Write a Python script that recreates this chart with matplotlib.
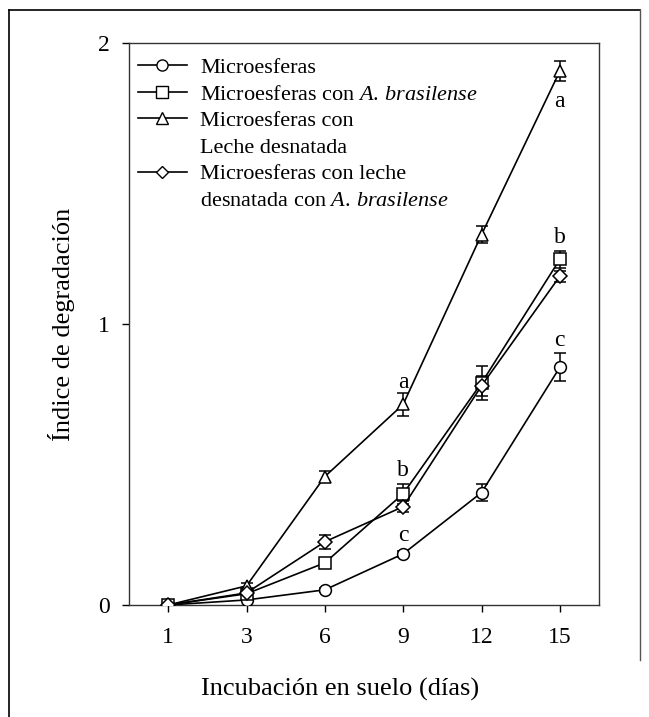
import matplotlib
matplotlib.use('Agg')
import matplotlib.pyplot as plt
from matplotlib.lines import Line2D
import numpy as np

plt.rcParams['font.family'] = ['Liberation Serif', 'DejaVu Serif']
plt.rcParams['mathtext.fontset'] = 'custom'
plt.rcParams['mathtext.rm'] = 'Liberation Serif'
plt.rcParams['mathtext.it'] = 'Liberation Serif:italic'

# Data
days = ['1', '3', '6', '9', '12', '15']
micro = [0.0, 0.018, 0.054, 0.182, 0.40, 0.846]
micro_err = [0.0, 0.005, 0.008, 0.010, 0.030, 0.050]
micro_ab = [0.0, 0.040, 0.150, 0.396, 0.790, 1.230]
micro_ab_err = [0.0, 0.005, 0.010, 0.036, 0.062, 0.030]
micro_leche = [0.0, 0.068, 0.457, 0.714, 1.318, 1.900]
micro_leche_err = [0.0, 0.010, 0.020, 0.040, 0.030, 0.036]
micro_leche_ab = [0.0, 0.043, 0.225, 0.350, 0.780, 1.170]
micro_leche_ab_err = [0.0, 0.010, 0.025, 0.020, 0.035, 0.020]

# legend text, one list per series (continuation lines get no marker)
labels = [['Microesferas'],
          ['Microesferas con $\\mathit{A.\\,brasilense}$'],
          ['Microesferas con', 'Leche desnatada'],
          ['Microesferas con leche', 'desnatada con $\\mathit{A.\\,brasilense}$']]
markers = ['o', 's', '^', 'D']

# significance letters: (day index, series index, letter, offset in points)
letters = [(3, 2, 'a', 16), (3, 1, 'b', 17), (3, 0, 'c', 13),
           (5, 2, 'a', -22), (5, 1, 'b', 16), (5, 0, 'c', 19)]

series = [micro, micro_ab, micro_leche, micro_leche_ab]
errors = [micro_err, micro_ab_err, micro_leche_err, micro_leche_ab_err]

fig = plt.figure(figsize=(6.49, 7.17), dpi=100)
ax = fig.add_axes([129/649, 1 - 605/717, 470/649, 562/717])

x = np.arange(len(days))
for vals, err, m in zip(series, errors, markers):
    ms = 7 if m == 'D' else 8.5
    ax.errorbar(x, vals, yerr=err, color='black', lw=1.2, marker=m, ms=ms,
                mfc='white', mec='black', mew=1.1, capsize=4.5, elinewidth=1.1,
                capthick=1.1, zorder=3)

for di, si, txt, off in letters:
    ax.annotate(txt, xy=(x[di], series[si][di]), xytext=(0, off),
                textcoords='offset points', ha='center', va='center', fontsize=17)

ax.set_xlim(-0.5, len(days) - 0.5)
ax.set_ylim(0, 2)
ax.set_xticks(x)
ax.set_xticklabels(days)
ax.set_yticks([0, 1, 2])
ax.tick_params(direction='out', length=5, width=1, labelsize=17)
ax.tick_params(axis='x', pad=11)
ax.tick_params(axis='y', pad=9)
for s in ax.spines.values():
    s.set_linewidth(1.0)
    s.set_color('#333333')

ax.set_xlabel('Incubación en suelo (días)', fontsize=19)
ax.set_ylabel('Índice de degradación', fontsize=19)
ax.xaxis.set_label_coords(0.45, -0.13)
ax.yaxis.set_label_coords(-0.115, 0.5)

handles, texts = [], []
for m, lab in zip(markers, labels):
    handles.append(Line2D([], [], color='black', lw=1.2, marker=m,
                          ms=(6.5 if m == 'D' else 8), mfc='white', mec='black', mew=1.0))
    texts.append(lab[0])
    for extra in lab[1:]:
        handles.append(Line2D([], [], color='none'))
        texts.append(extra)
ax.legend(handles, texts, loc='upper left', bbox_to_anchor=(0.0, 0.99),
          frameon=False, fontsize=16, handlelength=2.2, handletextpad=0.6,
          labelspacing=0.27, borderpad=0.2, borderaxespad=0.2)

# outer frame
fig.add_artist(Line2D([9/649, 9/649], [0, 1 - 10/717], color='black', lw=1.2,
                      transform=fig.transFigure))
fig.add_artist(Line2D([9/649, 640/649], [1 - 10/717, 1 - 10/717], color='black', lw=1.2,
                      transform=fig.transFigure))
fig.add_artist(Line2D([640/649, 640/649], [0.08, 1 - 10/717], color='#555555', lw=1.0,
                      transform=fig.transFigure))

fig.savefig('out.png', dpi=100)
